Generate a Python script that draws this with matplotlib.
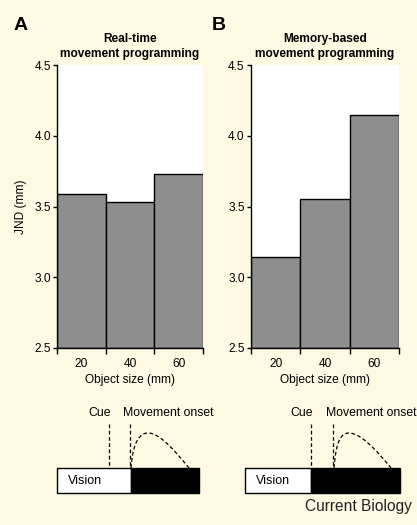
import matplotlib
matplotlib.use("Agg")
import matplotlib.pyplot as plt
from matplotlib.path import Path
from matplotlib.patches import PathPatch, Rectangle

plt.rcParams['font.family'] = ['Liberation Sans', 'DejaVu Sans']

# Data
sizes = ["20", "40", "60"]
jnd_realtime = [3.59, 3.53, 3.73]
jnd_memory = [3.14, 3.55, 4.15]
yticks = [2.5, 3.0, 3.5, 4.0, 4.5]
titles = ["Real-time\nmovement programming", "Memory-based\nmovement programming"]
panel_letters = ["A", "B"]

BG = '#FEF9E3'
BAR = '#8E8E8E'
FS = 8.6

W, H = 417, 525
fig = plt.figure(figsize=(W / 100, H / 100), dpi=100, facecolor=BG)

def px_rect(l, t, r, b):
    return [l / W, 1 - b / H, (r - l) / W, (b - t) / H]

axes_px = [(57, 65, 203, 348), (251, 65, 399, 348)]
series = [jnd_realtime, jnd_memory]

for i, (ax_px, vals) in enumerate(zip(axes_px, series)):
    ax = fig.add_axes(px_rect(*ax_px))
    ax.set_facecolor('white')
    x = range(len(sizes))
    ax.bar(x, [v - 2.5 for v in vals], bottom=2.5, width=1.0, color=BAR,
           edgecolor='black', linewidth=1.0)
    ax.set_xlim(-0.5, len(sizes) - 0.5)
    ax.set_ylim(2.5, 4.5)
    ax.spines['top'].set_visible(False)
    ax.spines['right'].set_visible(False)
    ax.spines['left'].set_linewidth(1.0)
    ax.spines['bottom'].set_linewidth(1.0)
    ax.set_yticks(yticks)
    ax.set_yticklabels([f"{t:.1f}" for t in yticks], fontsize=FS)
    ax.set_xticks([k - 0.5 for k in range(len(sizes) + 1)])
    ax.set_xticklabels([])
    ax.set_xticks(list(x), minor=True)
    ax.set_xticklabels(sizes, minor=True, fontsize=FS)
    ax.tick_params(axis='x', which='major', length=4, direction='out', width=1)
    ax.tick_params(axis='x', which='minor', length=0, pad=7)
    ax.tick_params(axis='y', length=3, width=1, pad=1.5)
    ax.set_xlabel("Object size (mm)", fontsize=FS, labelpad=3)
    if i == 0:
        ax.set_ylabel("JND (mm)", fontsize=FS, labelpad=5)
    ax.set_title(titles[i], fontsize=FS, fontweight='bold', pad=6, linespacing=1.3)

# overlay for letters and schematic diagrams
ov = fig.add_axes([0, 0, 1, 1], facecolor='none')
ov.set_xlim(0, W)
ov.set_ylim(H, 0)
ov.axis('off')

ov.text(14, 25, panel_letters[0], fontsize=14, fontweight='bold', va='center', ha='left')
ov.text(212, 25, panel_letters[1], fontsize=14, fontweight='bold', va='center', ha='left')

# schematic timelines: (bar_left, vision_end, bar_right, cue_x, onset_x, peak_x, end_x)
diagrams = [(57, 131, 199, 109, 130, 148, 189), (245, 311, 400, 311, 333, 349, 391)]
bar_top, bar_bot = 468, 493
line_top = 424
peak_y = 433
for (bl, ve, br, cue, onset, pk, ex) in diagrams:
    ov.add_patch(Rectangle((bl, bar_top), ve - bl, bar_bot - bar_top, facecolor='white',
                           edgecolor='black', linewidth=1.0))
    ov.add_patch(Rectangle((ve, bar_top), br - ve, bar_bot - bar_top, facecolor='black',
                           edgecolor='black', linewidth=1.0))
    ov.text(bl + 11, (bar_top + bar_bot) / 2 + 1, "Vision", fontsize=9, va='center', ha='left')
    ov.plot([cue, cue], [line_top, bar_top], ls=(0, (3, 2)), color='black', lw=0.9)
    ov.plot([onset, onset], [line_top, bar_top], ls=(0, (3, 2)), color='black', lw=0.9)
    verts = [(onset + 1, bar_top), (onset + 3, peak_y + 8), (pk - 8, peak_y), (pk, peak_y),
             (pk + 12, peak_y), (ex - 14, peak_y + 18), (ex, bar_top)]
    codes = [Path.MOVETO, Path.CURVE4, Path.CURVE4, Path.CURVE4,
             Path.CURVE4, Path.CURVE4, Path.CURVE4]
    ov.add_patch(PathPatch(Path(verts, codes), facecolor='none', edgecolor='black',
                           lw=0.9, ls=(0, (3, 2))))
    ov.text(cue - 9, 413, "Cue", fontsize=8.8, ha='center', va='center')
    ov.text(onset - 7, 413, "Movement onset", fontsize=8.8, ha='left', va='center')

ov.text(412, 506, "Current Biology", fontsize=11.2, ha='right', va='center', color='#222222')

fig.savefig("out.png", dpi=100, facecolor=BG)
